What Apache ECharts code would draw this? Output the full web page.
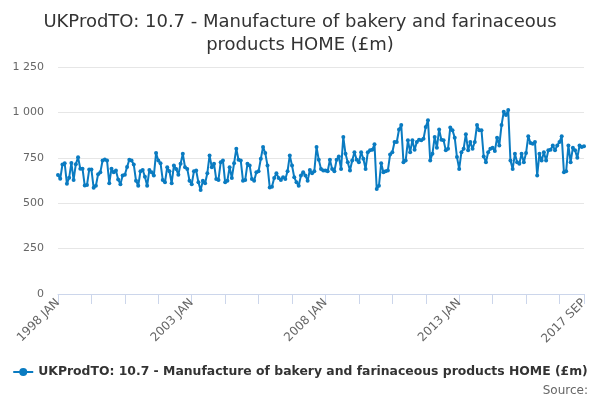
<!DOCTYPE html>
<html>
<head>
<meta charset="utf-8">
<script src="https://cdn.jsdelivr.net/npm/echarts@6/dist/echarts.min.js"></script>
<style>
  html, body { margin: 0; padding: 0; background: #fff; }
  #show_charts { width: 600px; height: 400px; }
</style>
</head>
<body>
<div id="show_charts"></div>
<script>
var seriesName = 'UKProdTO: 10.7 - Manufacture of bakery and farinaceous products HOME (£m)';
var monthNames = ['JAN', 'FEB', 'MAR', 'APR', 'MAY', 'JUN', 'JUL', 'AUG', 'SEP', 'OCT', 'NOV', 'DEC'];
var startYear = 1998;
var yTicks = [0, 250, 500, 750, 1000, 1250];

// monthly values, 1998 JAN .. 2017 SEP
var values = [
    655, 634, 713, 720, 607, 640, 722, 628, 715, 753, 690, 690,
    597, 600, 685, 685, 585, 596, 660, 670, 735, 740, 735, 610,
    690, 670, 680, 630, 605, 652, 657, 700, 739, 735, 713, 624,
    596, 676, 683, 646, 596, 683, 670, 652, 776, 735, 720, 628,
    615, 698, 676, 610, 707, 689, 657, 717, 772, 698, 689, 624,
    605, 676, 680, 615, 572, 624, 610, 665, 763, 698, 717, 633,
    628, 726, 735, 615, 624, 698, 639, 720, 800, 739, 735, 624,
    628, 717, 707, 633, 624, 670, 676, 745, 810, 776, 707, 587,
    591, 639, 665, 639, 628, 643, 633, 676, 763, 707, 643, 615,
    596, 652, 670, 652, 624, 683, 665, 676, 809, 739, 689, 680,
    680, 676, 739, 689, 676, 739, 757, 689, 865, 772, 726, 680,
    735, 781, 739, 726, 781, 745, 689, 781, 791, 794, 824, 578,
    596, 720, 670, 676, 680, 768, 781, 837, 837, 906, 930, 726,
    735, 846, 781, 846, 794, 837, 850, 846, 855, 920, 957, 735,
    772, 865, 805, 906, 850, 846, 791, 800, 917, 902, 861, 754,
    689, 781, 800, 880, 791, 837, 800, 837, 930, 902, 902, 757,
    726, 781, 800, 805, 787, 861, 818, 930, 1004, 985, 1013, 735,
    689, 772, 726, 717, 772, 726, 776, 869, 831, 828, 837, 652,
    772, 735, 781, 735, 791, 794, 818, 791, 818, 837, 869, 670,
    676, 818, 726, 805, 791, 750, 818, 809, 813
];

var categories = [];
for (var i = 0; i < values.length; i++) {
    categories.push((startYear + Math.floor(i / 12)) + ' ' + monthNames[i % 12]);
}
var lastIndex = categories.length - 1;

var fontName = 'DejaVu Sans';
var myChart = echarts.init(document.getElementById('show_charts'));
var option = {
    animation: false,
    title: {
        text: 'UKProdTO: 10.7 - Manufacture of bakery and farinaceous\nproducts HOME (£m)',
        left: 'center',
        top: 6,
        textStyle: {
            fontFamily: fontName,
            fontSize: 18,
            fontWeight: 'normal',
            color: '#333333',
            lineHeight: 23
        }
    },
    grid: { left: 58, right: 16, top: 67, bottom: 106 },
    legend: {
        data: [seriesName],
        left: 'center',
        bottom: 17,
        itemWidth: 20,
        itemHeight: 10,
        textStyle: {
            fontFamily: fontName,
            fontSize: 12.4,
            fontWeight: 'bold',
            color: '#333333'
        }
    },
    graphic: [{
        type: 'text',
        right: 12,
        bottom: 3,
        style: {
            text: 'Source:',
            font: '12px "DejaVu Sans"',
            fill: '#666666'
        }
    }],
    xAxis: {
        type: 'category',
        data: categories,
        boundaryGap: false,
        axisLine: { lineStyle: { color: '#ccd6eb' } },
        axisTick: {
            length: 10,
            interval: function (i) { return i % 15 === 0 || i === lastIndex; },
            lineStyle: { color: '#ccd6eb' }
        },
        axisLabel: {
            rotate: 45,
            interval: function (i) { return i % 60 === 0 || i === lastIndex; },
            color: '#666666',
            fontFamily: fontName,
            fontSize: 12,
            margin: 7
        },
        splitLine: { show: false }
    },
    yAxis: {
        type: 'value',
        min: 0,
        max: 1250,
        interval: 250,
        axisLine: { show: false },
        axisTick: { show: false },
        axisLabel: {
            color: '#666666',
            fontFamily: fontName,
            fontSize: 11,
            margin: 14,
            formatter: function (v) {
                return String(v).replace(/\B(?=(\d{3})+(?!\d))/g, ' ');
            }
        },
        splitLine: { lineStyle: { color: '#e6e6e6' } }
    },
    series: [{
        name: seriesName,
        type: 'line',
        data: values,
        color: '#0a7bc1',
        symbol: 'circle',
        symbolSize: 4,
        showAllSymbol: true,
        lineStyle: { width: 2 }
    }]
};
myChart.setOption(option);
</script>
</body>
</html>
